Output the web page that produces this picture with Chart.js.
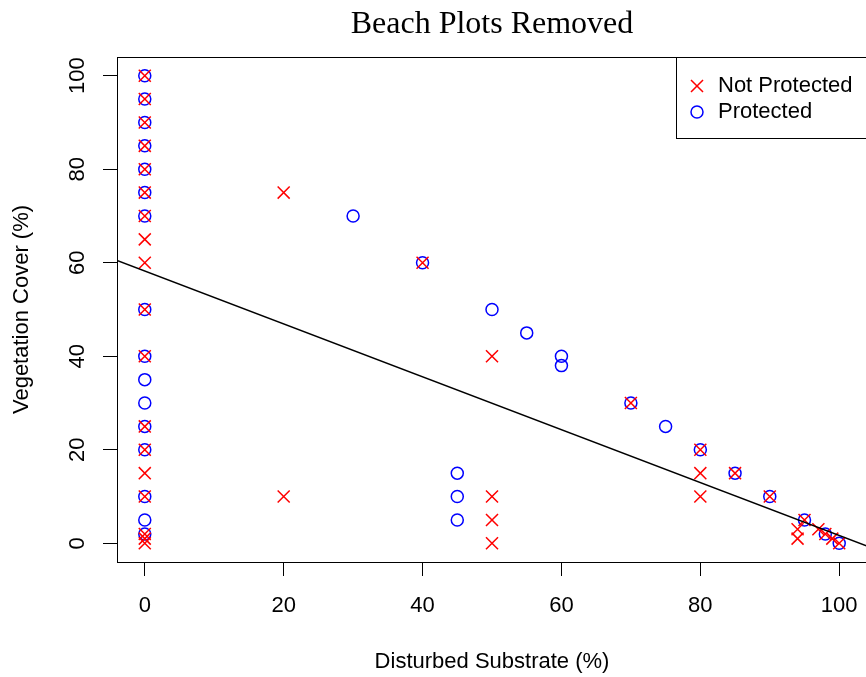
<!DOCTYPE html>
<html>
<head>
<meta charset="utf-8">
<title>Beach Plots Removed</title>
<script src="https://cdn.jsdelivr.net/npm/chart.js@4.4.1/dist/chart.umd.min.js"></script>
<style>
  body { margin: 0; overflow: hidden; background: #fff; }
</style>
</head>
<body>
<canvas id="myChart" width="880" height="677"></canvas>
<script>
// values (x = disturbed substrate %, y = vegetation cover %)
let notProtX = [0, 0, 0, 0, 0, 0, 0, 0, 0, 0, 0, 0, 0, 0, 0, 0, 0, 0,
                20, 20, 40, 50, 50, 50, 50, 70, 80, 80, 80, 85, 90, 95, 94, 94, 97, 98, 99, 100];
let notProtY = [100, 95, 90, 85, 80, 75, 70, 65, 60, 50, 40, 25, 20, 15, 10, 2, 1, 0,
                75, 10, 60, 40, 10, 5, 0, 30, 20, 15, 10, 15, 10, 5, 3, 1, 3, 2, 1, 0];

let protX = [0, 0, 0, 0, 0, 0, 0, 0, 0, 0, 0, 0, 0, 0, 0, 0,
             30, 40, 45, 45, 45, 50, 55, 60, 60, 70, 75, 80, 85, 90, 95, 98, 100];
let protY = [100, 95, 90, 85, 80, 75, 70, 50, 40, 35, 30, 25, 20, 10, 5, 2,
             70, 60, 15, 10, 5, 50, 45, 40, 38, 30, 25, 20, 15, 10, 5, 2, 0];

// fitted line, read at the two edges of the plot
let fitX = [-4, 104];
let fitY = [60.5, -0.6];

let tickValues = [0, 20, 40, 60, 80, 100];

let fontSans = "'Liberation Sans', Arial, Helvetica, sans-serif";

function toPoints(xs, ys) {
  let pts = [];
  for (let i = 0; i < xs.length; i++) {
    pts.push({x: xs[i], y: ys[i]});
  }
  return pts;
}

// box round the plot plus the legend in the top right corner
let boxPlugin = {
  id: 'rbox',
  afterDraw: function(chart) {
    let ctx = chart.ctx;
    let ca = chart.chartArea;
    ctx.save();
    ctx.strokeStyle = '#000';
    ctx.lineWidth = 1;
    ctx.strokeRect(Math.round(ca.left) + 0.5, Math.round(ca.top) + 0.5,
                   Math.round(ca.right - ca.left), Math.round(ca.bottom - ca.top));

    let lx = Math.round(ca.right) - 191;
    let ly = Math.round(ca.top);
    ctx.fillStyle = '#fff';
    ctx.fillRect(lx, ly, 191, 81);
    ctx.strokeRect(lx + 0.5, ly + 0.5, 191, 81);

    let items = [chart.data.datasets[1], chart.data.datasets[2]];
    ctx.font = '22px ' + fontSans;
    ctx.textBaseline = 'middle';
    ctx.textAlign = 'left';
    for (let i = 0; i < items.length; i++) {
      let ds = items[i];
      let y = ly + 29 + i * 26;
      ctx.strokeStyle = ds.borderColor;
      ctx.fillStyle = 'rgba(0,0,0,0)';
      ctx.lineWidth = 1.5;
      Chart.helpers.drawPoint(ctx, {pointStyle: ds.pointStyle, radius: ds.pointRadius, borderWidth: 1.5}, lx + 21, y);
      ctx.fillStyle = '#000';
      ctx.fillText(ds.label, lx + 42, y);
    }
    ctx.restore();
  }
};

let ctx = document.getElementById('myChart');
let myChart = new Chart(ctx, {
  type: 'scatter',
  data: {
    datasets: [{
      label: 'fit',
      data: toPoints(fitX, fitY),
      showLine: true,
      borderColor: '#000',
      borderWidth: 1.4,
      pointRadius: 0,
      order: 0
    }, {
      label: 'Not Protected',
      data: toPoints(notProtX, notProtY),
      pointStyle: 'crossRot',
      pointRadius: 8.5,
      borderColor: '#ff0000',
      backgroundColor: 'rgba(0,0,0,0)',
      borderWidth: 1.5,
      order: 1
    }, {
      label: 'Protected',
      data: toPoints(protX, protY),
      pointStyle: 'circle',
      pointRadius: 6,
      borderColor: '#0000ff',
      backgroundColor: 'rgba(0,0,0,0)',
      borderWidth: 1.5,
      order: 2
    }]
  },
  options: {
    responsive: false,
    animation: false,
    layout: { padding: { left: 0, right: 13, top: 0, bottom: 0 } },
    plugins: {
      legend: { display: false },
      tooltip: { enabled: false },
      title: {
        display: true,
        fullSize: false, // centre over the plot box, not the canvas
        text: 'Beach Plots Removed',
        color: '#000',
        font: { family: "'Liberation Serif', 'Times New Roman', serif", size: 32, weight: 'normal' },
        padding: { top: 5, bottom: 13.6 }
      }
    },
    scales: {
      x: {
        type: 'linear',
        min: -4,
        max: 104,
        bounds: 'data',
        afterFit: function(scale) { scale.height = 115; },
        afterBuildTicks: function(scale) {
          scale.ticks = tickValues.map(function(v) { return {value: v}; });
        },
        grid: { display: true, drawOnChartArea: false, drawTicks: true, tickLength: 14, color: '#000', lineWidth: 1 },
        border: { display: false },
        ticks: { color: '#000', padding: 17, maxRotation: 0, font: { family: fontSans, size: 22 } },
        title: {
          display: true,
          text: 'Disturbed Substrate (%)',
          color: '#000',
          font: { family: fontSans, size: 22 },
          padding: { top: 0, bottom: 2 }
        }
      },
      y: {
        type: 'linear',
        min: -4,
        max: 104,
        bounds: 'data',
        afterFit: function(scale) { scale.width = 117; },
        afterBuildTicks: function(scale) {
          scale.ticks = tickValues.map(function(v) { return {value: v}; });
        },
        grid: { display: true, drawOnChartArea: false, drawTicks: true, tickLength: 14, color: '#000', lineWidth: 1 },
        border: { display: false },
        ticks: { color: '#000', padding: 7, minRotation: 90, maxRotation: 90, crossAlign: 'center', font: { family: fontSans, size: 22 } },
        title: {
          display: true,
          text: 'Vegetation Cover (%)',
          color: '#000',
          font: { family: fontSans, size: 22 },
          padding: { top: 9, bottom: 0 }
        }
      }
    }
  },
  plugins: [boxPlugin]
});
</script>
</body>
</html>
